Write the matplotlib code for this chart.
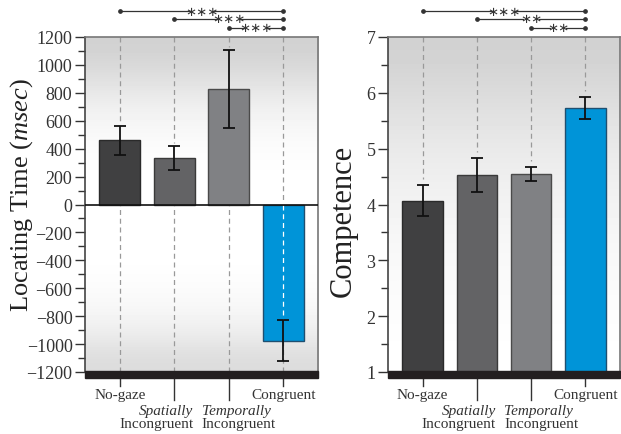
import numpy as np
import matplotlib
matplotlib.use("Agg")
import matplotlib.pyplot as plt
from matplotlib.patches import Rectangle

# =========================
# Data
# =========================
CATS       = ["No-gaze", "Spatially", "Temporally", "Congruent"]
COLORS     = ["#404041", "#636365", "#808184", "#0094d8"]
EDGES      = ["#2a2a2a", "#3a3a3a", "#4a4a4a", "#1f4f70"]

TIME_MEAN  = [460, 335, 830, -975]
TIME_ERR   = [103, 86, 280, 145]

COMP_MEAN  = [4.07, 4.53, 4.55, 5.73]
COMP_ERR   = [0.28, 0.31, 0.13, 0.20]

# significance brackets: (from, to, stars)
TIME_SIG   = [(0, 3, "***"), (1, 3, "***"), (2, 3, "***")]
COMP_SIG   = [(0, 3, "***"), (1, 3, "**"), (2, 3, "**")]

plt.rcParams['font.family'] = ['Liberation Serif', 'DejaVu Serif']
plt.rcParams['mathtext.fontset'] = 'custom'
plt.rcParams['mathtext.rm'] = 'Liberation Serif'
plt.rcParams['mathtext.it'] = 'Liberation Serif:italic'

fig = plt.figure(figsize=(6.21, 4.35), dpi=100)
W, H = 621, 435

def px_axes(x0, x1, y0, y1):
    return fig.add_axes([x0 / W, 1 - y1 / H, (x1 - x0) / W, (y1 - y0) / H])

ax1 = px_axes(85, 318, 38, 373)
ax2 = px_axes(388, 620, 38, 373)

x = np.arange(len(CATS))

def background(ax, profile):
    grad = np.array(profile).reshape(-1, 1)
    ax.imshow(grad, extent=[0, 1, 0, 1], transform=ax.transAxes, cmap="gray",
              vmin=0, vmax=1, aspect="auto", zorder=0, interpolation="bicubic")

def style(ax, ylim, major, minor, label, labelpos, labelsize):
    ax.set_xlim(-0.64, 3.64)
    ax.set_ylim(*ylim)
    ax.set_yticks(np.arange(ylim[0], ylim[1] + 0.001, major))
    ax.set_yticks(np.arange(ylim[0], ylim[1] + 0.001, minor), minor=True)
    ax.tick_params(axis="y", which="major", length=7, width=1, color="#333333",
                   labelsize=13, labelcolor="#333333", pad=2)
    ax.tick_params(axis="y", which="minor", length=5, width=1, color="#333333")
    ax.set_xticks([])
    for s in ["top", "right"]:
        ax.spines[s].set_color("#777777")
        ax.spines[s].set_linewidth(1.2)
    ax.spines["left"].set_color("#444444")
    ax.spines["left"].set_linewidth(1.2)
    ax.spines["bottom"].set_visible(False)
    # thick base bar
    h = 6 / 335
    ax.add_patch(Rectangle((0, -h), 1, h + 0.004, transform=ax.transAxes,
                           color="#231f20", clip_on=False, zorder=5))
    # x tick marks and labels
    aw = ax.get_position().width * W
    for i, name in enumerate(CATS):
        xa = ax.transAxes.inverted().transform(ax.transData.transform((i, 0)))[0]
        if name == "Spatially":
            L, xt, ha = 22, xa + 19 / aw, "right"
        elif name == "Temporally":
            L, xt, ha = 22, xa - 27 / aw, "left"
        else:
            L, xt, ha = 8, xa, "center"
        ax.plot([xa, xa], [-h, -h - L / 335], transform=ax.transAxes,
                color="#333333", lw=1, clip_on=False)
        if L > 10:
            ax.text(xt, -h - 26 / 335, name, transform=ax.transAxes, ha=ha,
                    va="top", fontsize=11, style="italic", color="#333333")
            ax.text(xt, -h - 39 / 335, "Incongruent", transform=ax.transAxes,
                    ha=ha, va="top", fontsize=11, color="#333333")
        else:
            ax.text(xt, -h - 10 / 335, name, transform=ax.transAxes, ha=ha,
                    va="top", fontsize=11, color="#333333")
    ax.set_ylabel(label, fontsize=labelsize, color="#222222")
    ax.yaxis.set_label_coords(*labelpos)

def sig(ax, pairs):
    ys = [12, 20, 29]
    aw = ax.get_position().width * W
    for (a, b, stars), yp in zip(pairs, ys):
        ya = (373 - yp) / 335
        xa = ax.transAxes.inverted().transform(ax.transData.transform((a, 0)))[0]
        xb = ax.transAxes.inverted().transform(ax.transData.transform((b, 0)))[0]
        xm = (xa + xb) / 2
        gap = (len(stars) * 7 + 2) / aw / 2
        for x0, x1 in [(xa, xm - gap), (xm + gap, xb)]:
            ax.plot([x0, x1], [ya, ya], transform=ax.transAxes, color="#333333",
                    lw=0.9, clip_on=False)
        ax.plot([xa, xb], [ya, ya], transform=ax.transAxes, ls="none",
                marker="o", ms=2.4, color="#333333", clip_on=False)
        ax.text(xm, ya, stars.replace("*", "\u2217"), transform=ax.transAxes,
                ha="center", va="center", fontsize=9.5, color="#333333",
                family="DejaVu Sans")

# =========================
# Left panel: Locating Time
# =========================
background(ax1, [0.82, 0.87, 0.93, 0.97, 0.99, 1.0, 1.0, 1.0, 1.0, 0.99, 0.97, 0.93, 0.86])
for i in range(len(CATS)):
    top = TIME_MEAN[i] + TIME_ERR[i] if TIME_MEAN[i] > 0 else 0
    ax1.plot([i, i], [1200, top + 20], ls=(0, (4, 3)), color="#999999", lw=0.9, zorder=1)
    ax1.plot([i, i], [-1200, 0], ls=(0, (4, 3)), color="#999999", lw=0.9, zorder=1)
ax1.bar(x, TIME_MEAN, width=0.75, color=COLORS, edgecolor=EDGES, linewidth=1, zorder=2)
ax1.plot([3, 3], [0, TIME_MEAN[3] + TIME_ERR[3]], ls=(0, (4, 3)), color="white",
         lw=0.9, zorder=3)
ax1.errorbar(x, TIME_MEAN, yerr=TIME_ERR, fmt="none", ecolor="#111111",
             elinewidth=1.3, capsize=4, capthick=1.3, zorder=4)
ax1.axhline(0, color="#111111", lw=1.2, zorder=3)
style(ax1, (-1200, 1200), 200, 100, r"Locating Time ($\mathit{msec}$)",
      (-0.215, 0.53), 19)
sig(ax1, TIME_SIG)

# =========================
# Right panel: Competence
# =========================
background(ax2, [0.82, 0.86, 0.9, 0.93, 0.95, 0.97, 0.98, 0.99, 1.0])
for i in range(len(CATS)):
    ax2.plot([i, i], [7, COMP_MEAN[i] + COMP_ERR[i] + 0.1], ls=(0, (4, 3)),
             color="#999999", lw=0.9, zorder=1)
ax2.bar(x, [m - 1 for m in COMP_MEAN], bottom=1, width=0.75, color=COLORS,
        edgecolor=EDGES, linewidth=1, zorder=2)
ax2.errorbar(x, COMP_MEAN, yerr=COMP_ERR, fmt="none", ecolor="#111111",
             elinewidth=1.3, capsize=4, capthick=1.3, zorder=4)
style(ax2, (1, 7), 1, 0.5, "Competence", (-0.13, 0.454), 22)
sig(ax2, COMP_SIG)

fig.savefig("out.png", dpi=100)
